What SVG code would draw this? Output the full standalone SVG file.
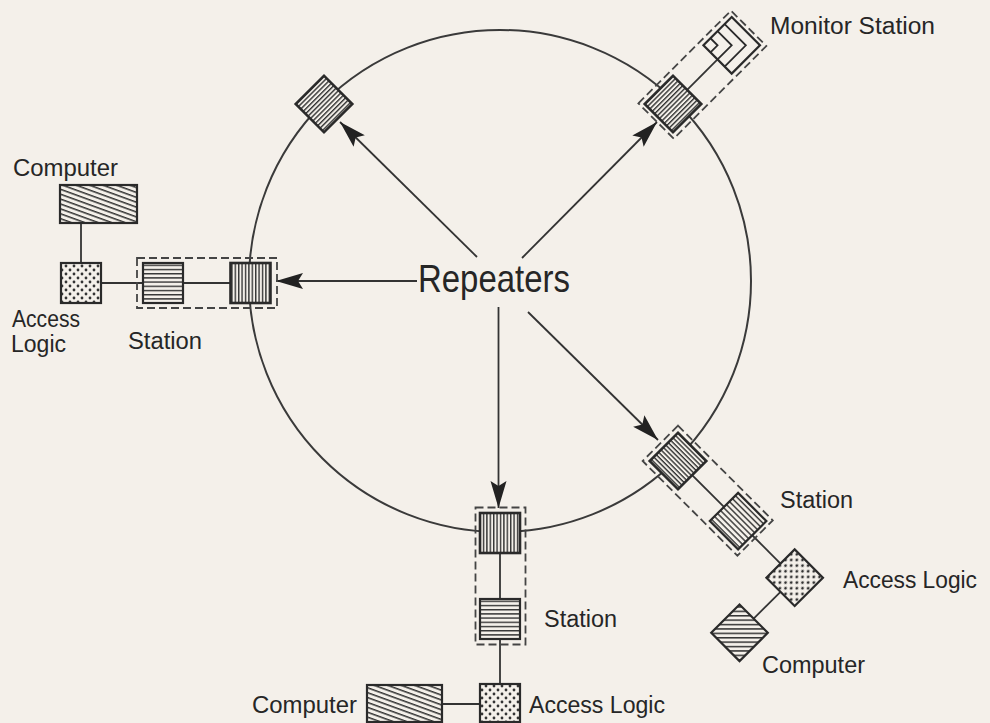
<svg xmlns="http://www.w3.org/2000/svg" width="990" height="723" viewBox="0 0 990 723">
<defs>
<style>
.bg{fill:#f4f0ea}
.ring{fill:none;stroke:#3a3a3a;stroke-width:2}
.ln{fill:none;stroke:#333;stroke-width:1.8}
.arr{fill:none;stroke:#333;stroke-width:1.8;marker-end:url(#ah)}
.dash{fill:none;stroke:#444;stroke-width:1.8;stroke-dasharray:8 4}
.rep{stroke:#2a2a2a;stroke-width:2.6}
.box{stroke:#2a2a2a;stroke-width:2.2}
.chev{fill:none;stroke:#2a2a2a;stroke-width:1.8}
.lbl{font-family:"Liberation Sans","DejaVu Sans",sans-serif;font-size:23px;fill:#262626}
.big{font-size:39px}
</style>
<pattern id="repV" patternUnits="userSpaceOnUse" width="3.4" height="10">
<rect width="3.4" height="10" fill="#f4f0ea"/>
<rect x="0" y="0" width="1.4" height="10" fill="#333"/>
</pattern>
<pattern id="repH" patternUnits="userSpaceOnUse" width="10" height="3.4">
<rect width="10" height="3.4" fill="#f4f0ea"/>
<rect x="0" y="0" width="10" height="1.4" fill="#333"/>
</pattern>
<pattern id="staH" patternUnits="userSpaceOnUse" width="10" height="4.2">
<rect width="10" height="4.2" fill="#f4f0ea"/>
<rect x="0" y="0" width="10" height="1.4" fill="#333"/>
</pattern>
<pattern id="comp" patternUnits="userSpaceOnUse" width="10" height="4.6" patternTransform="rotate(20)">
<rect width="10" height="4.6" fill="#f4f0ea"/>
<rect x="0" y="0" width="10" height="1.5" fill="#333"/>
</pattern>
<pattern id="compR" patternUnits="userSpaceOnUse" width="10" height="4.4" patternTransform="rotate(-45)">
<rect width="10" height="4.4" fill="#f4f0ea"/>
<rect x="0" y="0" width="10" height="1.5" fill="#333"/>
</pattern>
<pattern id="dots" patternUnits="userSpaceOnUse" width="8" height="8">
<rect width="8" height="8" fill="#f4f0ea"/>
<circle cx="2" cy="2" r="1.4" fill="#333"/>
<circle cx="6" cy="6" r="1.4" fill="#333"/>
</pattern>
<marker id="ah" markerUnits="userSpaceOnUse" markerWidth="30" markerHeight="18" viewBox="0 0 30 18" refX="27" refY="8" orient="auto">
<path d="M0,0 L27,8 L0,16 L5,8 Z" fill="#222"/>
</marker>
</defs>

<rect class="bg" x="0" y="0" width="990" height="723"/>

<g id="connectors">
<circle class="ring" cx="500" cy="281" r="251"/>
<line class="ln" x1="81" y1="223" x2="81" y2="263"/>
<line class="ln" x1="101" y1="283" x2="143" y2="283"/>
<line class="ln" x1="183" y1="283" x2="230" y2="283"/>
<line class="ln" x1="500" y1="553" x2="500" y2="599"/>
<line class="ln" x1="500" y1="639" x2="500" y2="684"/>
<line class="ln" x1="442" y1="704" x2="480" y2="704"/>
<g transform="translate(673,104) rotate(-45)">
<line class="ln" x1="20" y1="0" x2="63" y2="0"/>
</g>
<g transform="translate(678,461) rotate(45)">
<line class="ln" x1="20" y1="0" x2="65" y2="0"/>
<line class="ln" x1="105" y1="0" x2="145" y2="0"/>
<line class="ln" x1="165" y1="20" x2="165" y2="58"/>
</g>
<line class="arr" x1="417" y1="281" x2="276" y2="281"/>
<line class="arr" x1="477" y1="257" x2="340" y2="122"/>
<line class="arr" x1="522" y1="258" x2="657" y2="122"/>
<line class="arr" x1="498.5" y1="307" x2="498.5" y2="508"/>
<line class="arr" x1="528" y1="312" x2="658" y2="440"/>
</g>

<g id="repeater-top-left" transform="translate(324,104) rotate(45)">
<rect class="rep" x="-20" y="-20" width="40" height="40" fill="url(#repV)"/>
</g>

<g id="monitor-station" transform="translate(673,104) rotate(-45)">
<g id="repeater-top-right">
<rect class="rep" x="-20" y="-20" width="40" height="40" fill="url(#repH)"/>
</g>
<g id="monitor">
<rect class="box" x="63" y="-20" width="40" height="40" fill="#f4f0ea"/>
<polyline class="chev" points="73,-20 73,-10 63,-10"/>
<polyline class="chev" points="83,-20 83,0 63,0"/>
<polyline class="chev" points="93,-20 93,10 63,10"/>
</g>
<rect class="dash" x="-24" y="-25" width="131" height="50"/>
</g>

<g id="station-left">
<g id="computer-left"><rect class="box" x="60" y="185" width="77" height="38" fill="url(#comp)"/></g>
<g id="access-left"><rect class="box" x="61" y="263" width="40" height="40" fill="url(#dots)"/></g>
<g id="station-box-left"><rect class="box" x="143" y="263" width="40" height="40" fill="url(#staH)"/></g>
<g id="repeater-left"><rect class="rep" x="230.5" y="263" width="40" height="40" fill="url(#repV)"/></g>
<rect class="dash" x="137" y="258" width="140" height="50"/>
</g>

<g id="station-bottom">
<g id="repeater-bottom"><rect class="rep" x="480" y="513" width="40" height="40" fill="url(#repV)"/></g>
<g id="station-box-bottom"><rect class="box" x="480" y="599" width="40" height="40" fill="url(#staH)"/></g>
<g id="access-bottom"><rect class="box" x="480" y="684" width="40" height="38" fill="url(#dots)"/></g>
<g id="computer-bottom"><rect class="box" x="367" y="685" width="75" height="37" fill="url(#comp)"/></g>
<rect class="dash" x="475.5" y="507.5" width="50" height="137"/>
</g>

<g id="station-right" transform="translate(678,461) rotate(45)">
<g id="repeater-right"><rect class="rep" x="-20" y="-20" width="40" height="40" fill="url(#repH)"/></g>
<g id="station-box-right"><rect class="box" x="65" y="-20" width="40" height="40" fill="url(#staH)"/></g>
<g id="access-right"><rect class="box" x="145" y="-20" width="40" height="40" fill="url(#dots)"/></g>
<g id="computer-right"><rect class="box" x="145" y="58" width="40" height="40" fill="url(#compR)"/></g>
<rect class="dash" x="-25" y="-25" width="134" height="50"/>
</g>

<g id="labels">
<text class="lbl" x="770" y="34" font-size="24" textLength="165" lengthAdjust="spacingAndGlyphs">Monitor Station</text>
<text class="lbl" x="13" y="176" textLength="105" lengthAdjust="spacingAndGlyphs">Computer</text>
<text class="lbl" x="12" y="327" font-size="22" textLength="68" lengthAdjust="spacingAndGlyphs">Access</text>
<text class="lbl" x="11" y="352" font-size="22" textLength="55" lengthAdjust="spacingAndGlyphs">Logic</text>
<text class="lbl" x="128" y="349" textLength="74" lengthAdjust="spacingAndGlyphs">Station</text>
<text class="lbl big" x="418" y="292" textLength="152" lengthAdjust="spacingAndGlyphs">Repeaters</text>
<text class="lbl" x="780" y="508" textLength="73" lengthAdjust="spacingAndGlyphs">Station</text>
<text class="lbl" x="843" y="588" textLength="134" lengthAdjust="spacingAndGlyphs">Access Logic</text>
<text class="lbl" x="762" y="673" textLength="103" lengthAdjust="spacingAndGlyphs">Computer</text>
<text class="lbl" x="544" y="627" textLength="73" lengthAdjust="spacingAndGlyphs">Station</text>
<text class="lbl" x="529" y="713" textLength="136" lengthAdjust="spacingAndGlyphs">Access Logic</text>
<text class="lbl" x="252" y="713" textLength="105" lengthAdjust="spacingAndGlyphs">Computer</text>
</g>
</svg>
